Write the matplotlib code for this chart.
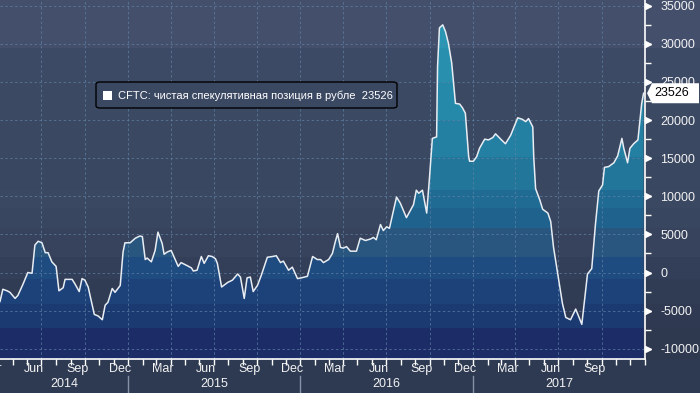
import matplotlib
matplotlib.use("Agg")
import matplotlib.pyplot as plt
import matplotlib.dates as mdates
import matplotlib.transforms as mtransforms
from matplotlib.patches import Polygon, FancyBboxPatch, Rectangle
from matplotlib.ticker import MultipleLocator
from matplotlib.colors import to_rgb
import numpy as np
import pandas as pd

plt.rcParams["font.family"] = ["Liberation Sans", "DejaVu Sans"]

# weekly CFTC net speculative position in RUB futures (contracts)
DATES_2014 = [
    "2014-04-04", "2014-04-10", "2014-04-19", "2014-04-25", "2014-05-06", "2014-05-12",
    "2014-05-23", "2014-06-02", "2014-06-11", "2014-06-17", "2014-06-24", "2014-07-02",
    "2014-07-09", "2014-07-15", "2014-07-23", "2014-08-01", "2014-08-07", "2014-08-16",
    "2014-08-20", "2014-09-04", "2014-09-10", "2014-09-19", "2014-09-25", "2014-10-01",
    "2014-10-08", "2014-10-21", "2014-10-29", "2014-11-07", "2014-11-13", "2014-11-19",
    "2014-11-28", "2014-12-04", "2014-12-15", "2014-12-21", "2014-12-25",
]
VALUES_2014 = [
    -3800, -2200, -2400, -2600, -3400, -3000, -1500, 0, -100, 3600, 4100, 3900,
    2600, 2600, 1400, 800, -2400, -2000, -900, -900, -1500, -2500, -800, -1000,
    -1900, -5500, -5700, -6200, -4300, -3900, -2100, -2600, -1700, 2700, 3900,
]
DATES_2015 = [
    "2015-01-05", "2015-01-16", "2015-01-26", "2015-01-31", "2015-02-06", "2015-02-10",
    "2015-02-19", "2015-02-27", "2015-03-05", "2015-03-14", "2015-03-18", "2015-03-25",
    "2015-04-02", "2015-04-17", "2015-04-23", "2015-05-06", "2015-05-15", "2015-05-19",
    "2015-05-27", "2015-06-05", "2015-06-11", "2015-06-20", "2015-06-28", "2015-07-05",
    "2015-07-09", "2015-07-18", "2015-07-31", "2015-08-10", "2015-08-21", "2015-08-27",
    "2015-09-04", "2015-09-10", "2015-09-17", "2015-09-23", "2015-10-02", "2015-10-10",
    "2015-10-23", "2015-11-03", "2015-11-11", "2015-11-20", "2015-11-26", "2015-12-07",
    "2015-12-15", "2015-12-26",
]
VALUES_2015 = [
    3900, 4500, 4800, 4700, 1700, 1900, 1400, 2900, 5300, 3800, 2400, 2700,
    2900, 800, 1300, 900, 600, 200, 300, 2100, 1200, 2200, 2100, 1800,
    1200, -1900, -1300, -1000, -200, -600, -3400, -700, -600, -2500, -1700, -400,
    2000, 2100, 2200, 1300, 1500, 300, 700, -800,
]
DATES_2016 = [
    "2016-01-03", "2016-01-16", "2016-01-27", "2016-02-06", "2016-02-13", "2016-02-19",
    "2016-03-01", "2016-03-09", "2016-03-15", "2016-03-20", "2016-03-26", "2016-04-01",
    "2016-04-08", "2016-04-16", "2016-04-29", "2016-05-07", "2016-05-18", "2016-05-29",
    "2016-06-04", "2016-06-10", "2016-06-19", "2016-06-25", "2016-07-02", "2016-07-08",
    "2016-07-23", "2016-07-31", "2016-08-13", "2016-08-28", "2016-09-03", "2016-09-08",
    "2016-09-16", "2016-09-25", "2016-10-01", "2016-10-07", "2016-10-16", "2016-10-18",
    "2016-10-22", "2016-10-29", "2016-11-04", "2016-11-10", "2016-11-17", "2016-11-25",
    "2016-12-04", "2016-12-10", "2016-12-16", "2016-12-23", "2016-12-25",
]
VALUES_2016 = [
    -700, -500, 2100, 1700, 1700, 1300, 1700, 2500, 4000, 5100, 3300, 3200,
    3400, 2800, 2800, 4500, 4200, 4400, 4600, 4300, 6300, 5500, 6000, 5800,
    9900, 9100, 7200, 8900, 10800, 10400, 10800, 7800, 12500, 17600, 17800, 27000,
    32100, 32500, 31600, 30100, 27500, 22200, 22100, 21600, 20900, 15200, 14600,
]
DATES_2017 = [
    "2017-01-02", "2017-01-09", "2017-01-15", "2017-01-26", "2017-02-03", "2017-02-12",
    "2017-02-18", "2017-03-01", "2017-03-11", "2017-03-22", "2017-04-06", "2017-04-16",
    "2017-04-23", "2017-04-29", "2017-05-08", "2017-05-10", "2017-05-14", "2017-05-23",
    "2017-05-29", "2017-06-09", "2017-06-15", "2017-06-21", "2017-06-30", "2017-07-10",
    "2017-07-17", "2017-07-27", "2017-08-07", "2017-08-20", "2017-09-01", "2017-09-10",
    "2017-09-18", "2017-09-25", "2017-10-03", "2017-10-07", "2017-10-16", "2017-10-27",
    "2017-11-04", "2017-11-13", "2017-11-17", "2017-11-25", "2017-11-30", "2017-12-08",
    "2017-12-17", "2017-12-25", "2017-12-29",
]
VALUES_2017 = [
    14600, 15200, 16300, 17500, 17400, 17700, 18200, 17500, 16900, 18000, 20300, 20100,
    19800, 20200, 19100, 15200, 11000, 9500, 8300, 7800, 6700, 3300, -200, -4100,
    -5900, -6200, -4800, -6800, -200, 500, 6400, 10700, 11500, 13800, 13900, 14400,
    15300, 17600, 16300, 14400, 16300, 16900, 17400, 22200, 23526,
]

SERIES_LABEL = "CFTC: чистая спекулятивная позиция в рубле"
LAST_VALUE = 23526
Y_TICKS = list(range(-10000, 35001, 5000))
YEARS = [2014, 2015, 2016, 2017]
LABEL_MONTHS = [3, 6, 9, 12]
LAST_MONTH_LABEL = "2017-09-15"

# Bloomberg-style stepped bands (pixel rows from the top of the figure)
BAND_EDGES_PX = [0, 48, 82, 120, 157, 190, 208, 228, 257, 279, 304, 328, 359]
FILL_COLORS = ["#2b96b3", "#2890ae", "#258aa9", "#2380a2", "#21769a", "#1f6b93",
               "#1f628d", "#28567f", "#1e4b80", "#1d427a", "#1c3a72", "#1b2c67"]
BG_COLORS = ["#434f6b", "#3d4a65", "#3c4963", "#3b4862", "#3a4761", "#3b4862",
             "#394660", "#37435c", "#333f58", "#303c54", "#2f3a52", "#2e3950"]
BOTTOM_BG = "#2e3a52"
W, H = 700, 393
PLOT_W, PLOT_H = 645, 359
Y_MIN, Y_MAX = -11350, 35760


def band_rows(edges, colors, n):
    rows = np.zeros((n, 1, 3))
    for a, b, c in zip(edges[:-1], edges[1:], colors):
        rows[a:b, 0, :] = to_rgb(c)
    return rows


dates = pd.to_datetime(DATES_2014 + DATES_2015 + DATES_2016 + DATES_2017)
values = np.array(VALUES_2014 + VALUES_2015 + VALUES_2016 + VALUES_2017, dtype=float)
xnum = mdates.date2num(dates)
x_min = xnum[0]
x_max = mdates.date2num(pd.Timestamp("2018-01-01"))

fig = plt.figure(figsize=(W / 100, H / 100), dpi=100)

bg_ax = fig.add_axes([0, 0, 1, 1], zorder=-10)
bg_ax.imshow(band_rows(BAND_EDGES_PX + [H], BG_COLORS + [BOTTOM_BG], H),
             aspect="auto", extent=(0, 1, 0, 1), interpolation="nearest")
bg_ax.axis("off")

ax = fig.add_axes([0, (H - PLOT_H) / H, PLOT_W / W, PLOT_H / H])
ax.set_facecolor("none")

img = ax.imshow(band_rows(BAND_EDGES_PX, FILL_COLORS, PLOT_H), aspect="auto",
                extent=(x_min, x_max, Y_MIN, Y_MAX), interpolation="nearest", zorder=1)
verts = [(xnum[0], Y_MIN)] + list(zip(xnum, values)) + [(xnum[-1], Y_MIN)]
clip = Polygon(verts, closed=True, facecolor="none", edgecolor="none")
ax.add_patch(clip)
img.set_clip_path(clip)

ax.plot(xnum, values, color="#e8edf3", lw=1.1, zorder=4)

grid_kw = dict(color="#5f82a6", lw=0.7, ls=(0, (2.5, 2.5)), alpha=0.7, zorder=2)
for v in Y_TICKS:
    ax.axhline(v, **grid_kw)
for d in pd.date_range("2014-04-01", "2017-12-31", freq="QS"):
    ax.axvline(mdates.date2num(d), **grid_kw)

ax.set_xlim(x_min, x_max)
ax.set_ylim(Y_MIN, Y_MAX)

for side in ["left", "top"]:
    ax.spines[side].set_visible(False)
for side in ["right", "bottom"]:
    ax.spines[side].set_color("white")
    ax.spines[side].set_linewidth(1.2)
    ax.spines[side].set_zorder(5)

# y axis on the right
ax.yaxis.tick_right()
ax.set_yticks(Y_TICKS)
ax.set_yticklabels([str(v) for v in Y_TICKS])
ax.yaxis.set_minor_locator(MultipleLocator(2500))
ax.tick_params(axis="y", which="both", length=4, width=1, color="white",
               labelcolor="#f2f2f2", labelsize=9, pad=7)
tri_trans = mtransforms.offset_copy(ax.get_yaxis_transform(), fig=fig, x=3, units="dots")
ax.plot([1] * len(Y_TICKS), Y_TICKS, transform=tri_trans, marker=">", ms=5,
        color="white", ls="none", clip_on=False, zorder=6)

# x axis: month ticks, quarter labels, year labels
ax.xaxis.set_major_locator(mdates.MonthLocator())
ax.xaxis.set_major_formatter(plt.NullFormatter())
ax.tick_params(axis="x", which="major", length=4, width=1, color="white")
xtrans = ax.get_xaxis_transform()
last_label = mdates.date2num(pd.Timestamp(LAST_MONTH_LABEL))
for year in YEARS:
    for m in LABEL_MONTHS:
        xm = mdates.date2num(pd.Timestamp(year, m, 15))
        if xm <= last_label:
            ax.text(xm, -10 / PLOT_H, pd.Timestamp(year, m, 1).strftime("%b"),
                    transform=xtrans, ha="center", va="center", color="#f2f2f2",
                    fontsize=9, clip_on=False)
    start = max(mdates.date2num(pd.Timestamp(year, 1, 1)), x_min)
    end = min(mdates.date2num(pd.Timestamp(year + 1, 1, 1)), x_max)
    ax.text((start + end) / 2, -25 / PLOT_H, str(year), transform=xtrans,
            ha="center", va="center", color="#f2f2f2", fontsize=9, clip_on=False)
    if year > YEARS[0]:
        xs = mdates.date2num(pd.Timestamp(year, 1, 1))
        ax.plot([xs, xs], [-17 / PLOT_H, -34 / PLOT_H], transform=xtrans,
                color="#8492a6", lw=1, clip_on=False)

# last value tag on the right axis
tag_trans = fig.dpi_scale_trans + mtransforms.ScaledTranslation(
    1, LAST_VALUE, ax.get_yaxis_transform())
tag = Polygon(np.array([(2, 0), (7, 10), (54, 10), (54, -10), (7, -10)]) / 100,
              closed=True, facecolor="white", edgecolor="none",
              transform=tag_trans, clip_on=False, zorder=7)
ax.add_artist(tag)
ax.text(0.27, 0, str(LAST_VALUE), transform=tag_trans, ha="center", va="center",
        color="black", fontsize=9, zorder=8, clip_on=False)

# legend box
fig.patches.append(FancyBboxPatch((96 / W, (H - 108) / H), 301 / W, 26 / H,
                                  boxstyle="round,pad=0,rounding_size=0.006",
                                  facecolor="#3b4862", edgecolor="black", lw=1,
                                  transform=fig.transFigure, zorder=10))
fig.patches.append(Rectangle((103 / W, (H - 100) / H), 9 / W, 9 / H,
                             facecolor="white", edgecolor="none",
                             transform=fig.transFigure, zorder=11))
fig.text(118 / W, (H - 95.5) / H, f"{SERIES_LABEL}  {LAST_VALUE}", color="white",
         fontsize=8, ha="left", va="center", zorder=12)

fig.savefig("out.png", dpi=100)
